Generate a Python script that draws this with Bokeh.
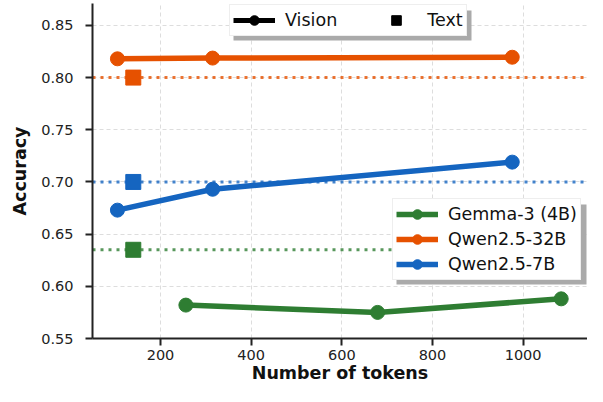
from bokeh.plotting import figure
from bokeh.models import (ColumnDataSource, Range1d, Span, Legend, LegendItem,
                          FixedTicker, NumeralTickFormatter, BoxAnnotation)
from bokeh.embed import file_html
from bokeh.resources import INLINE

# ---- data ----
models = ["Gemma-3 (4B)", "Qwen2.5-32B", "Qwen2.5-7B"]
colors = ["#2e7d32", "#e65100", "#1565c0"]
gemma_tokens = [256, 679, 1084]
gemma_acc = [0.582, 0.575, 0.588]
q32_tokens = [105, 315, 976]
q32_acc = [0.818, 0.8187, 0.8195]
q7_tokens = [105, 315, 976]
q7_acc = [0.673, 0.693, 0.719]
text_tokens = [140, 140, 140]
text_acc = [0.635, 0.800, 0.700]
x_ticks = [200, 400, 600, 800, 1000]
y_ticks = [0.55, 0.60, 0.65, 0.70, 0.75, 0.80, 0.85]

FONT = "DejaVu Sans"
W, H = 587, 386
BL, BT, BB, BR = 92, 3, 48, 0
XR = (50, 1142)
YR = (0.55, 0.871)
p = figure(width=W, height=H, output_backend="svg", toolbar_location=None,
           x_range=Range1d(*XR), y_range=Range1d(*YR),
           min_border_left=BL, min_border_right=BR, min_border_top=BT, min_border_bottom=BB)
p.outline_line_color = None
p.background_fill_color = "white"

for ax in (p.xaxis, p.yaxis):
    ax.axis_line_width = 2
    ax.axis_line_color = "#222222"
    ax.major_tick_line_width = 2
    ax.major_tick_line_color = "#222222"
    ax.major_tick_out = 7
    ax.major_tick_in = 0
    ax.minor_tick_line_color = None
    ax.major_label_text_font = FONT
    ax.major_label_text_font_size = "14.5px"
    ax.major_label_text_color = "#222222"
    ax.axis_label_text_font = FONT
    ax.axis_label_text_font_size = "17.5px"
    ax.axis_label_text_font_style = "bold"
    ax.axis_label_text_color = "#111111"
p.xaxis.ticker = FixedTicker(ticks=x_ticks)
p.yaxis.ticker = FixedTicker(ticks=y_ticks)
p.yaxis.formatter = NumeralTickFormatter(format="0.00")
p.xaxis.axis_label = "Number of tokens"
p.yaxis.axis_label = "Accuracy"
p.xaxis.major_label_standoff = 4
p.yaxis.major_label_standoff = 12
p.xaxis.axis_label_standoff = 0
p.yaxis.axis_label_standoff = 8

for g in (p.xgrid, p.ygrid):
    g.grid_line_color = "#dddddd"
    g.grid_line_dash = "4 3"
    g.grid_line_width = 1
p.xgrid.ticker = FixedTicker(ticks=x_ticks)
p.ygrid.ticker = FixedTicker(ticks=y_ticks)

# dotted text baselines
for acc, c in zip(text_acc, colors):
    p.add_layout(Span(location=acc, dimension="width", line_color=c, line_alpha=0.8,
                      line_width=3, line_dash="3 5", level="underlay"))

series = [(gemma_tokens, gemma_acc), (q32_tokens, q32_acc), (q7_tokens, q7_acc)]
items = []
for (xs, ys), name, c in zip(series, models, colors):
    src = ColumnDataSource(dict(x=xs, y=ys))
    l = p.line("x", "y", source=src, line_color=c, line_width=5.5)
    s = p.scatter("x", "y", source=src, marker="circle", size=14, fill_color=c, line_color=c)
    items.append(LegendItem(label=name, renderers=[l, s]))

tsrc = ColumnDataSource(dict(x=text_tokens, y=text_acc, c=colors))
p.scatter("x", "y", source=tsrc, marker="square", size=15, fill_color="c", line_color="c")

# style-legend renderers (no visible data)
nan = float("nan")
empty = ColumnDataSource(dict(x=[nan], y=[nan]))
vl = p.line("x", "y", source=empty, line_color="black", line_width=5)
vs = p.scatter("x", "y", source=empty, marker="circle", size=14, fill_color="black", line_color="black")
ts = p.scatter("x", "y", source=empty, marker="square", size=14, fill_color="black", line_color="black")

def style_legend(lg):
    lg.label_text_font = FONT
    lg.label_text_font_size = "17.5px"
    lg.label_text_color = "#111111"
    lg.border_line_color = "#dddddd"
    lg.border_line_width = 1
    lg.background_fill_color = "white"
    lg.background_fill_alpha = 1.0
    lg.glyph_width = 42
    lg.glyph_height = 24
    lg.label_height = 20
    lg.label_standoff = 10
    lg.padding = 3
    lg.margin = 0

FW, FH = W - BL - BR, H - BT - BB
leg1 = Legend(items=[LegendItem(label="Vision", renderers=[vl, vs]),
                     LegendItem(label="Text", renderers=[ts])],
              orientation="horizontal", location=(137, FH - 36 + BT))
style_legend(leg1)
leg1.spacing = 38
leg2 = Legend(items=items, location=(300, FH - 280 + BT))
style_legend(leg2)
leg2.spacing = 1

# shadows: screen px -> data units
def dx(sx): return XR[0] + (sx - BL) / FW * (XR[1] - XR[0])
def dy(sy): return YR[1] - (sy - BT) / FH * (YR[1] - YR[0])
p.add_layout(BoxAnnotation(left=dx(233), right=dx(471), top=dy(10), bottom=dy(40),
                           fill_color="#aaaaaa", fill_alpha=1.0, line_color=None, level="overlay"))
p.add_layout(BoxAnnotation(left=dx(396), right=dx(586), top=dy(204), bottom=dy(284),
                           fill_color="#aaaaaa", fill_alpha=1.0, line_color=None, level="overlay"))

p.add_layout(leg1, "center")
p.add_layout(leg2, "center")

open("out.html", "w").write(file_html(p, INLINE))
